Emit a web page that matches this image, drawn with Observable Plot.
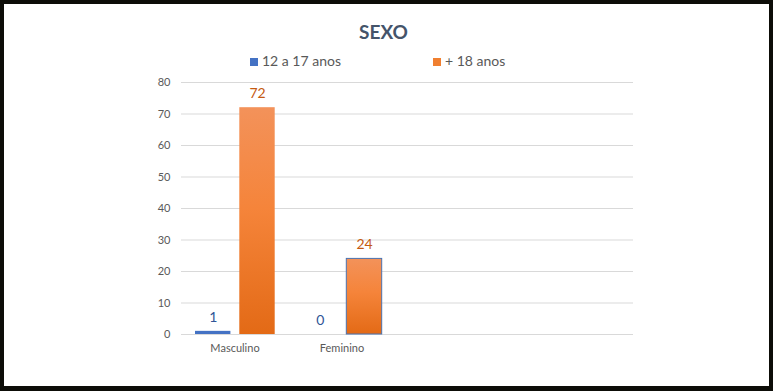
<!DOCTYPE html>
<html>
<head>
<meta charset="utf-8">
<script src="https://cdn.jsdelivr.net/npm/d3@7"></script>
<script src="https://cdn.jsdelivr.net/npm/@observablehq/plot@0.6"></script>
<style>
  html, body { margin: 0; padding: 0; background: #fff; }
  #wrap {
    width: 773px; height: 391px; box-sizing: border-box;
    border-style: solid; border-color: #0d0d08;
    border-width: 4px 4px 5px 4px;
    font-family: Lato, "Open Sans", sans-serif;
    overflow: hidden; background: #fff;
  }
  #title {
    height: 40px; line-height: 40px; padding-top: 8px;
    text-align: center; font-weight: bold; font-size: 19px; color: #44546A;
    padding-left: 0;
  }
  #title span { display: inline-block; margin-left: -6px; }
  #legend {
    height: 17px; line-height: 17px; padding-left: 246px; margin-bottom: 3px;
    font-size: 14px; color: #595959; white-space: nowrap;
  }
  #legend .item { display: inline-block; width: 183px; }
  #legend .sw { display: inline-block; width: 8px; height: 8px; margin-right: 4px; vertical-align: 0px; }
  #chart svg { display: block; }
</style>
</head>
<body>
<div id="wrap">
  <div id="title"><span>SEXO</span></div>
  <div id="legend"></div>
  <div id="chart"></div>
</div>
<script>
const categories = ["Masculino", "Feminino"];
const series = ["12 a 17 anos", "+ 18 anos"];
const values1217 = [1, 0];
const values18 = [72, 24];
const yTicks = [0, 10, 20, 30, 40, 50, 60, 70, 80];
const seriesColors = ["#4472C4", "#F07F30"];
const labelColors = ["#2F5597", "#C55A11"];

const data = [];
categories.forEach((c, i) => {
  data.push({cat: c, series: series[0], value: values1217[i]});
  data.push({cat: c, series: series[1], value: values18[i]});
});
const young = data.filter(d => d.series === series[0]);
const adult = data.filter(d => d.series === series[1]);

// legend
const legend = document.getElementById("legend");
series.forEach((s, i) => {
  const item = document.createElement("span");
  item.className = "item";
  const sw = document.createElement("span");
  sw.className = "sw";
  sw.style.background = seriesColors[i];
  item.appendChild(sw);
  item.appendChild(document.createTextNode(s));
  legend.appendChild(item);
});

const svg = Plot.plot({
  width: 765,
  height: 314,
  marginLeft: 177,
  marginRight: 136,
  marginTop: 10,
  marginBottom: 52,
  style: {fontFamily: "Lato, 'Open Sans', sans-serif", fontSize: "11px", color: "#595959", background: "#fff"},
  x: {domain: categories, paddingInner: 0, paddingOuter: 1.106, align: 0, tickSize: 0, tickPadding: 10, label: null},
  y: {domain: [0, 80], ticks: yTicks, tickSize: 0, tickPadding: 11, label: null},
  marks: [
    Plot.ruleY(yTicks, {stroke: "#d9d9d9", strokeWidth: 1}),
    Plot.barY(young, {x: "cat", y: "value", fill: seriesColors[0], insetLeft: 14, insetRight: 57.6}),
    Plot.barY(adult, {x: "cat", y: "value", fill: "url(#orangeGrad)", insetLeft: 58.3, insetRight: 13.3}),
    Plot.barY(adult.filter(d => d.cat === "Feminino"), {x: "cat", y: "value", fill: "none", stroke: "#4A72B0", strokeWidth: 1, insetLeft: 58.3, insetRight: 13.3}),
    Plot.text(young, {x: "cat", y: "value", text: d => String(d.value), dx: -21.8, dy: -14, fill: labelColors[0], fontSize: 14}),
    Plot.text(adult, {x: "cat", y: "value", text: d => String(d.value), dx: 22.5, dy: -14, fill: labelColors[1], fontSize: 14})
  ]
});

const defs = d3.select(svg).insert("defs", ":first-child");
const grad = defs.append("linearGradient")
  .attr("id", "orangeGrad").attr("x1", 0).attr("y1", 0).attr("x2", 0).attr("y2", 1);
grad.append("stop").attr("offset", "0%").attr("stop-color", "#F3925A");
grad.append("stop").attr("offset", "45%").attr("stop-color", "#F5843A");
grad.append("stop").attr("offset", "100%").attr("stop-color", "#E36A16");

document.getElementById("chart").appendChild(svg);
</script>
</body>
</html>
